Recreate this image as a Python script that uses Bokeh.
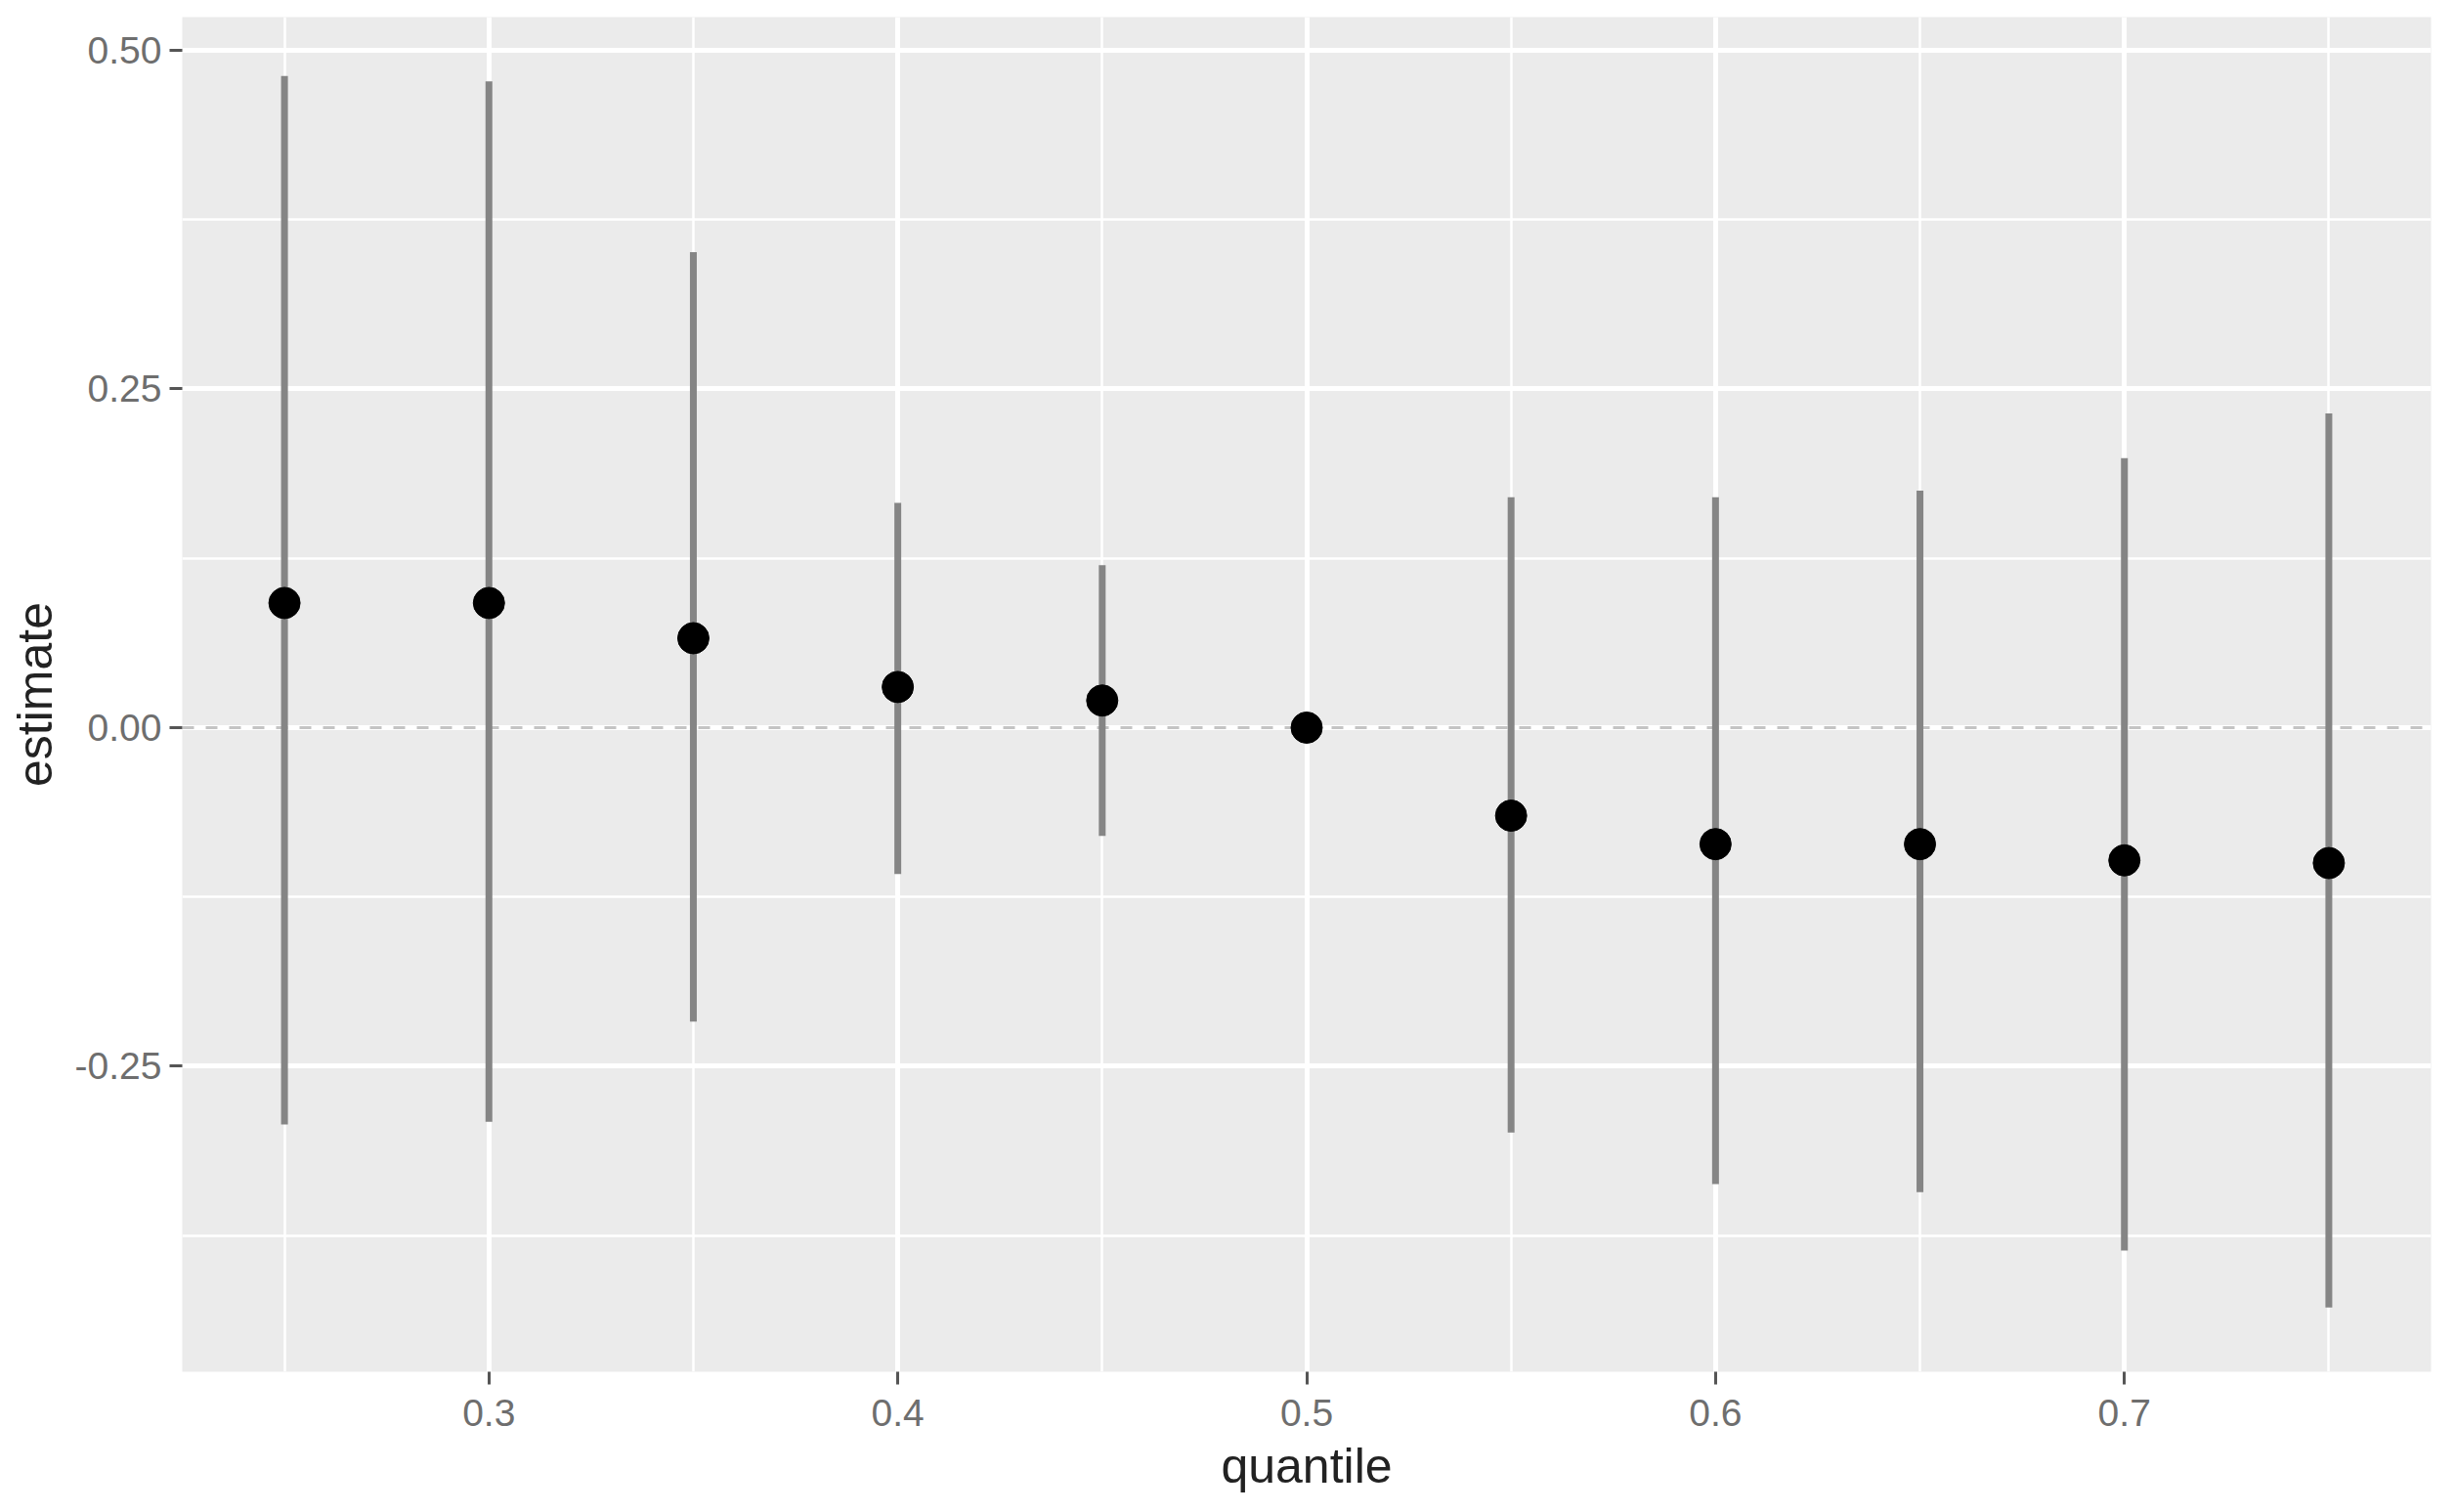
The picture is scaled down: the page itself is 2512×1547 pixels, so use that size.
from bokeh.plotting import figure
from bokeh.models import FixedTicker, NumeralTickFormatter, Span, Range1d
from bokeh.embed import file_html
from bokeh.resources import INLINE

# ---- data ----
quantile = [0.25, 0.30, 0.35, 0.40, 0.45, 0.50, 0.55, 0.60, 0.65, 0.70, 0.75]
estimate = [0.092, 0.092, 0.066, 0.030, 0.020, 0.000, -0.065, -0.086, -0.086, -0.098, -0.100]
lower = [-0.293, -0.291, -0.217, -0.108, -0.080, 0.000, -0.299, -0.337, -0.343, -0.386, -0.428]
upper = [0.481, 0.477, 0.351, 0.166, 0.120, 0.000, 0.170, 0.170, 0.175, 0.199, 0.232]

x_ticks = [0.3, 0.4, 0.5, 0.6, 0.7]
x_minor = [0.25, 0.35, 0.45, 0.55, 0.65, 0.75]
y_ticks = [-0.25, 0.0, 0.25, 0.5]
y_minor = [-0.375, -0.125, 0.125, 0.375]

FONT = "Liberation Sans"

p = figure(width=2496, height=1531, output_backend="svg", toolbar_location=None,
           x_range=Range1d(0.225, 0.775), y_range=Range1d(-0.4755, 0.5245),
           min_border_left=186, min_border_right=9, min_border_top=17, min_border_bottom=128,
           background_fill_color="#EBEBEB", border_fill_color="white")
p.outline_line_color = None

# grid
for g in (p.xgrid, p.ygrid):
    g.grid_line_color = "white"
    g.grid_line_width = 5
    g.minor_grid_line_color = "white"
    g.minor_grid_line_width = 2.5

p.xaxis.ticker = FixedTicker(ticks=x_ticks, minor_ticks=x_minor)
p.yaxis.ticker = FixedTicker(ticks=y_ticks, minor_ticks=y_minor)
p.xgrid.ticker = p.xaxis.ticker
p.ygrid.ticker = p.yaxis.ticker
p.xaxis.formatter = NumeralTickFormatter(format="0.0")
p.yaxis.formatter = NumeralTickFormatter(format="0.00")

for ax in (p.xaxis, p.yaxis):
    ax.axis_line_color = None
    ax.minor_tick_line_color = None
    ax.major_tick_line_color = "#555555"
    ax.major_tick_line_width = 3
    ax.major_tick_out = 13
    ax.major_tick_in = 0
    ax.major_label_text_font = FONT
    ax.major_label_text_font_size = "39px"
    ax.major_label_text_color = "#6E6E6E"
    ax.axis_label_text_font = FONT
    ax.axis_label_text_font_size = "50px"
    ax.axis_label_text_font_style = "normal"
    ax.axis_label_text_color = "#222222"

p.xaxis.axis_label = "quantile"
p.yaxis.axis_label = "estimate"
p.yaxis.major_label_standoff = 8
p.xaxis.major_label_standoff = 15
p.xaxis.axis_label_standoff = 10
p.yaxis.axis_label_standoff = 10

# zero reference line
p.add_layout(Span(location=0, dimension="width", line_color="#C4C4C4",
                  line_dash="12 12", line_width=3, level="underlay"))

# error bars and points
p.segment(x0=quantile, y0=lower, x1=quantile, y1=upper,
          line_color="#858585", line_width=7)
p.scatter(x=quantile, y=estimate, size=32, color="black", line_color="black")

open("out.html", "w").write(file_html(p, INLINE))
